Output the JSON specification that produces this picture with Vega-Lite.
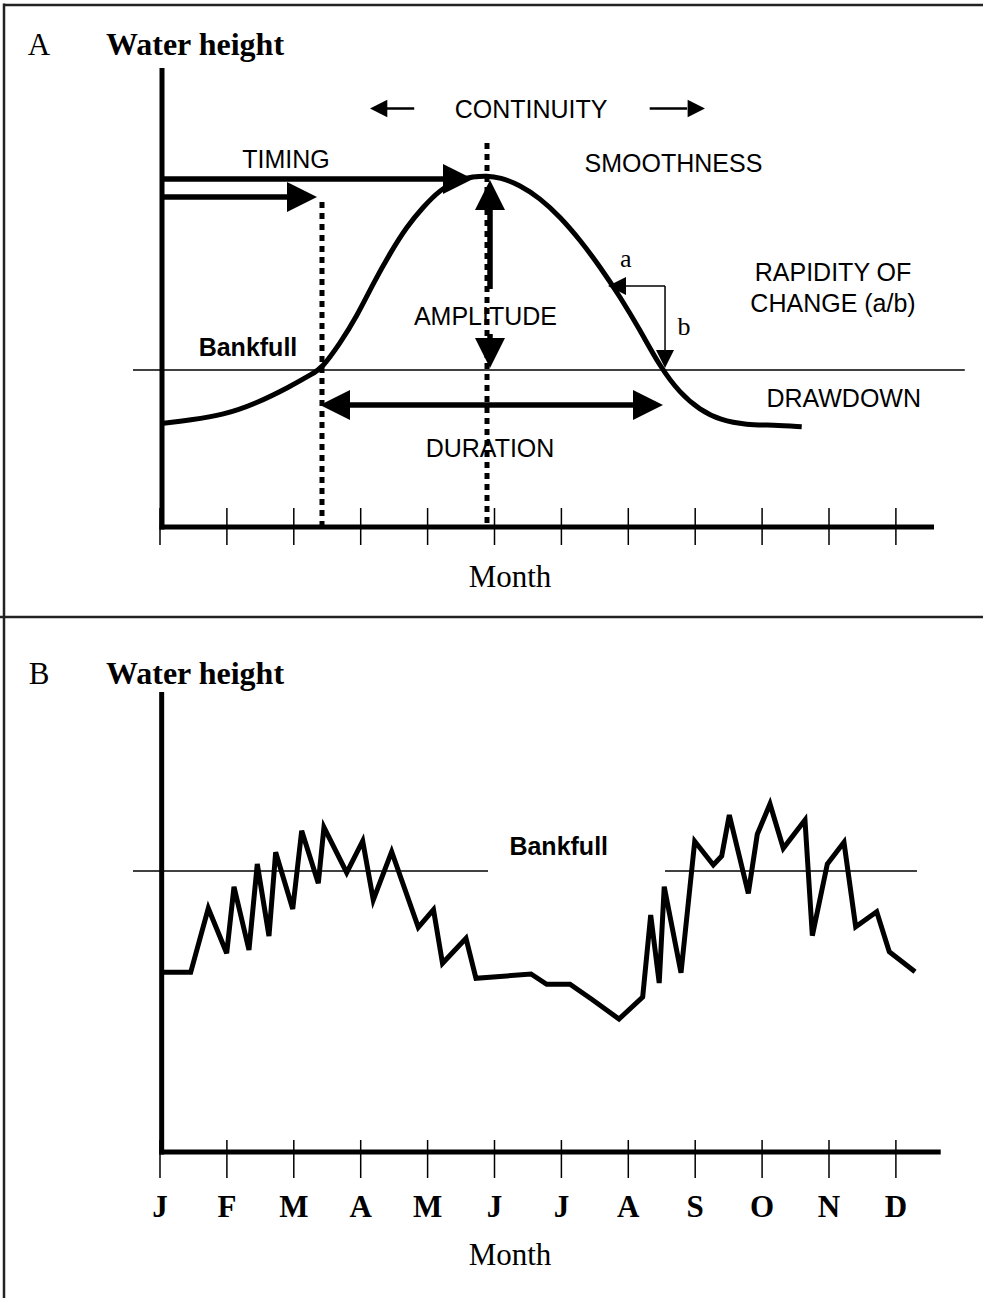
{
  "$schema": "https://vega.github.io/schema/vega-lite/v6.json",
  "width": 983,
  "height": 1298,
  "padding": 0,
  "autosize": {"type": "none"},
  "background": "white",
  "config": {"view": {"stroke": null}},
  "datasets": {
    "frame": [
      {"m": -2.3318, "m2": 12.4, "h": 17.4, "h2": 17.4},
      {"m": -2.3318, "m2": -2.3318, "h": 17.45, "h2": -25.8},
      {"m": -2.4, "m2": 12.4, "h": -3.0, "h2": -3.0}
    ],
    "axesA": [
      {"m": 0.03, "m2": 0.03, "h": 15.3, "h2": -0.08},
      {"m": -0.005, "m2": 11.57, "h": 0, "h2": 0}
    ],
    "ticksA": [
      {"m": 0, "h": 0.633, "h2": -0.6}, {"m": 1, "h": 0.633, "h2": -0.6}, {"m": 2, "h": 0.633, "h2": -0.6},
      {"m": 3, "h": 0.633, "h2": -0.6}, {"m": 4, "h": 0.633, "h2": -0.6}, {"m": 5, "h": 0.633, "h2": -0.6},
      {"m": 6, "h": 0.633, "h2": -0.6}, {"m": 7, "h": 0.633, "h2": -0.6}, {"m": 8, "h": 0.633, "h2": -0.6},
      {"m": 9, "h": 0.633, "h2": -0.6}, {"m": 10, "h": 0.633, "h2": -0.6}, {"m": 11, "h": 0.633, "h2": -0.6}
    ],
    "bankA": [{"m": -0.404, "m2": 12.03, "h": 5.233, "h2": 5.233}],
    "dotsA": [
      {"m": 2.4215, "h": 10.833, "h2": 0},
      {"m": 4.888, "h": 12.8, "h2": 0}
    ],
    "curveA": [
      {"m": 0.049, "h": 3.457}, {"m": 0.448, "h": 3.567}, {"m": 0.946, "h": 3.733}, {"m": 1.445, "h": 4.123},
      {"m": 1.943, "h": 4.677}, {"m": 2.291, "h": 5.123}, {"m": 2.417, "h": 5.29}, {"m": 2.691, "h": 6.123},
      {"m": 2.94, "h": 7.01}, {"m": 3.188, "h": 8.123}, {"m": 3.438, "h": 9.123}, {"m": 3.688, "h": 10.01},
      {"m": 3.936, "h": 10.677}, {"m": 4.185, "h": 11.233}, {"m": 4.435, "h": 11.567}, {"m": 4.683, "h": 11.677},
      {"m": 4.883, "h": 11.71}, {"m": 5.082, "h": 11.65}, {"m": 5.381, "h": 11.4}, {"m": 5.68, "h": 10.957},
      {"m": 5.979, "h": 10.343}, {"m": 6.278, "h": 9.567}, {"m": 6.577, "h": 8.677}, {"m": 6.876, "h": 7.677},
      {"m": 7.175, "h": 6.567}, {"m": 7.474, "h": 5.343}, {"m": 7.773, "h": 4.457}, {"m": 8.072, "h": 3.9},
      {"m": 8.371, "h": 3.567}, {"m": 8.77, "h": 3.4}, {"m": 9.167, "h": 3.4}, {"m": 9.592, "h": 3.343}
    ],
    "shaftsA": [
      {"m": 0.03, "m2": 4.26, "h": 11.6, "h2": 11.6},
      {"m": 0.03, "m2": 1.943, "h": 11.0, "h2": 11.0},
      {"m": 2.78, "m2": 7.1, "h": 4.067, "h2": 4.067},
      {"m": 4.933, "m2": 4.933, "h": 7.933, "h2": 10.6},
      {"m": 4.933, "m2": 4.933, "h": 6.433, "h2": 6.1}
    ],
    "headsA": [
      {"m": 4.679, "h": 11.6, "dir": "right"},
      {"m": 2.347, "h": 11.0, "dir": "right"},
      {"m": 4.933, "h": 11.567, "dir": "up"},
      {"m": 4.933, "h": 5.3, "dir": "down"},
      {"m": 2.392, "h": 4.067, "dir": "left"},
      {"m": 7.519, "h": 4.067, "dir": "right"}
    ],
    "thinA": [
      {"m": 6.9, "m2": 7.549, "h": 8.033, "h2": 8.033},
      {"m": 7.549, "m2": 7.549, "h": 8.033, "h2": 5.85}
    ],
    "smallHeadsA": [
      {"m": 6.697, "h": 8.033, "dir": "left"},
      {"m": 7.549, "h": 5.3, "dir": "down"}
    ],
    "contShafts": [
      {"m": 3.3, "m2": 3.8, "h": 13.95, "h2": 13.95},
      {"m": 7.32, "m2": 7.88, "h": 13.95, "h2": 13.95}
    ],
    "contHeads": [
      {"m": 3.139, "h": 13.95, "dir": "left"},
      {"m": 8.146, "h": 13.95, "dir": "right"}
    ],
    "sansA": [
      {"m": 5.546, "h": 13.633, "t": "CONTINUITY"},
      {"m": 1.883, "h": 11.967, "t": "TIMING"},
      {"m": 7.675, "h": 11.833, "t": "SMOOTHNESS"},
      {"m": 4.865, "h": 6.733, "t": "AMPLITUDE"},
      {"m": 4.933, "h": 2.333, "t": "DURATION"},
      {"m": 10.06, "h": 8.2, "t": "RAPIDITY OF"},
      {"m": 10.06, "h": 7.167, "t": "CHANGE (a/b)"},
      {"m": 10.22, "h": 4.0, "t": "DRAWDOWN"}
    ],
    "boldSansA": [{"m": 1.315, "h": 5.7, "t": "Bankfull"}],
    "lettersA": [
      {"m": 6.961, "h": 8.677, "t": "a"},
      {"m": 7.833, "h": 6.4, "t": "b"}
    ],
    "serifA": [
      {"m": -1.809, "h": 15.733, "t": "A"},
      {"m": 5.232, "h": -2.0, "t": "Month"}
    ],
    "titleA": [{"m": -0.807, "h": 15.733, "t": "Water height"}],
    "axesB": [
      {"m": 0.025, "m2": 0.025, "h": 15.333, "h2": -0.08},
      {"m": -0.005, "m2": 11.67, "h": 0, "h2": 0}
    ],
    "ticksB": [
      {"m": 0, "h": 0.4, "h2": -0.867}, {"m": 1, "h": 0.4, "h2": -0.867}, {"m": 2, "h": 0.4, "h2": -0.867},
      {"m": 3, "h": 0.4, "h2": -0.867}, {"m": 4, "h": 0.4, "h2": -0.867}, {"m": 5, "h": 0.4, "h2": -0.867},
      {"m": 6, "h": 0.4, "h2": -0.867}, {"m": 7, "h": 0.4, "h2": -0.867}, {"m": 8, "h": 0.4, "h2": -0.867},
      {"m": 9, "h": 0.4, "h2": -0.867}, {"m": 10, "h": 0.4, "h2": -0.867}, {"m": 11, "h": 0.4, "h2": -0.867}
    ],
    "bankB": [
      {"m": -0.404, "m2": 4.903, "h": 9.367, "h2": 9.367},
      {"m": 7.549, "m2": 11.315, "h": 9.367, "h2": 9.367}
    ],
    "lineB": [
      {"m": 0.025, "h": 5.99}, {"m": 0.459, "h": 5.99}, {"m": 0.722, "h": 8.123}, {"m": 0.997, "h": 6.623},
      {"m": 1.106, "h": 8.843}, {"m": 1.33, "h": 6.733}, {"m": 1.454, "h": 9.6}, {"m": 1.629, "h": 7.2},
      {"m": 1.729, "h": 9.99}, {"m": 1.984, "h": 8.1}, {"m": 2.118, "h": 10.71}, {"m": 2.366, "h": 8.957},
      {"m": 2.451, "h": 10.823}, {"m": 2.791, "h": 9.31}, {"m": 3.03, "h": 10.367}, {"m": 3.188, "h": 8.4},
      {"m": 3.463, "h": 10.01}, {"m": 3.861, "h": 7.49}, {"m": 4.088, "h": 8.077}, {"m": 4.223, "h": 6.29},
      {"m": 4.574, "h": 7.123}, {"m": 4.723, "h": 5.79}, {"m": 5.546, "h": 5.933}, {"m": 5.78, "h": 5.59},
      {"m": 6.129, "h": 5.59}, {"m": 6.453, "h": 5.09}, {"m": 6.861, "h": 4.433}, {"m": 7.215, "h": 5.167},
      {"m": 7.335, "h": 7.9}, {"m": 7.462, "h": 5.633}, {"m": 7.537, "h": 8.843}, {"m": 7.788, "h": 5.977},
      {"m": 7.993, "h": 10.357}, {"m": 8.271, "h": 9.567}, {"m": 8.396, "h": 9.867}, {"m": 8.51, "h": 11.233},
      {"m": 8.794, "h": 8.623}, {"m": 8.928, "h": 10.59}, {"m": 9.118, "h": 11.6}, {"m": 9.317, "h": 10.123},
      {"m": 9.641, "h": 11.067}, {"m": 9.751, "h": 7.21}, {"m": 9.975, "h": 9.6}, {"m": 10.224, "h": 10.323},
      {"m": 10.399, "h": 7.51}, {"m": 10.713, "h": 8.01}, {"m": 10.901, "h": 6.677}, {"m": 11.286, "h": 6.01}
    ],
    "boldSansB": [{"m": 5.96, "h": 9.9, "t": "Bankfull"}],
    "serifB": [
      {"m": -1.809, "h": 15.6, "t": "B"},
      {"m": 5.232, "h": -3.767, "t": "Month"}
    ],
    "titleB": [{"m": -0.807, "h": 15.6, "t": "Water height"}],
    "monthsB": [
      {"m": 0, "h": -2.167, "t": "J"}, {"m": 1, "h": -2.167, "t": "F"}, {"m": 2, "h": -2.167, "t": "M"},
      {"m": 3, "h": -2.167, "t": "A"}, {"m": 4, "h": -2.167, "t": "M"}, {"m": 5, "h": -2.167, "t": "J"},
      {"m": 6, "h": -2.167, "t": "J"}, {"m": 7, "h": -2.167, "t": "A"}, {"m": 8, "h": -2.167, "t": "S"},
      {"m": 9, "h": -2.167, "t": "O"}, {"m": 10, "h": -2.167, "t": "N"}, {"m": 11, "h": -2.167, "t": "D"}
    ]
  },
  "layer": [
    {
      "layer": [
        {
          "data": {"name": "frame"},
          "mark": {"type": "rule", "color": "#222222", "strokeWidth": 2.5},
          "encoding": {
            "x": {"field": "m", "type": "quantitative", "scale": {"domain": [-2.3916, 12.302], "nice": false, "zero": false}, "axis": null},
            "x2": {"field": "m2"},
            "y": {"field": "h", "type": "quantitative", "scale": {"domain": [-25.7, 17.5667], "nice": false, "zero": false}, "axis": null},
            "y2": {"field": "h2"}
          }
        },
        {
          "data": {"name": "bankA"},
          "mark": {"type": "rule", "color": "black", "strokeWidth": 1.6},
          "encoding": {
            "x": {"field": "m", "type": "quantitative", "scale": {"domain": [-2.3916, 12.302], "nice": false, "zero": false}, "axis": null},
            "x2": {"field": "m2"},
            "y": {"field": "h", "type": "quantitative", "scale": {"domain": [-25.7, 17.5667], "nice": false, "zero": false}, "axis": null},
            "y2": {"field": "h2"}
          }
        },
        {
          "data": {"name": "sansA"},
          "mark": {"type": "text", "font": "Liberation Sans", "fontSize": 25, "color": "black", "align": "center", "baseline": "alphabetic"},
          "encoding": {
            "x": {"field": "m", "type": "quantitative", "scale": {"domain": [-2.3916, 12.302], "nice": false, "zero": false}, "axis": null},
            "y": {"field": "h", "type": "quantitative", "scale": {"domain": [-25.7, 17.5667], "nice": false, "zero": false}, "axis": null},
            "text": {"field": "t"}
          }
        },
        {
          "data": {"name": "dotsA"},
          "mark": {"type": "rule", "color": "black", "strokeWidth": 5, "strokeDash": [6, 5]},
          "encoding": {
            "x": {"field": "m", "type": "quantitative", "scale": {"domain": [-2.3916, 12.302], "nice": false, "zero": false}, "axis": null},
            "y": {"field": "h", "type": "quantitative", "scale": {"domain": [-25.7, 17.5667], "nice": false, "zero": false}, "axis": null},
            "y2": {"field": "h2"}
          }
        },
        {
          "data": {"name": "ticksA"},
          "mark": {"type": "rule", "color": "black", "strokeWidth": 1.5},
          "encoding": {
            "x": {"field": "m", "type": "quantitative", "scale": {"domain": [-2.3916, 12.302], "nice": false, "zero": false}, "axis": null},
            "y": {"field": "h", "type": "quantitative", "scale": {"domain": [-25.7, 17.5667], "nice": false, "zero": false}, "axis": null},
            "y2": {"field": "h2"}
          }
        },
        {
          "data": {"name": "axesA"},
          "mark": {"type": "rule", "color": "black", "strokeWidth": 5},
          "encoding": {
            "x": {"field": "m", "type": "quantitative", "scale": {"domain": [-2.3916, 12.302], "nice": false, "zero": false}, "axis": null},
            "x2": {"field": "m2"},
            "y": {"field": "h", "type": "quantitative", "scale": {"domain": [-25.7, 17.5667], "nice": false, "zero": false}, "axis": null},
            "y2": {"field": "h2"}
          }
        },
        {
          "data": {"name": "curveA"},
          "mark": {"type": "line", "color": "black", "strokeWidth": 5, "interpolate": "basis"},
          "encoding": {
            "x": {"field": "m", "type": "quantitative", "scale": {"domain": [-2.3916, 12.302], "nice": false, "zero": false}, "axis": null},
            "y": {"field": "h", "type": "quantitative", "scale": {"domain": [-25.7, 17.5667], "nice": false, "zero": false}, "axis": null}
          }
        },
        {
          "data": {"name": "shaftsA"},
          "mark": {"type": "rule", "color": "black", "strokeWidth": 5.5},
          "encoding": {
            "x": {"field": "m", "type": "quantitative", "scale": {"domain": [-2.3916, 12.302], "nice": false, "zero": false}, "axis": null},
            "x2": {"field": "m2"},
            "y": {"field": "h", "type": "quantitative", "scale": {"domain": [-25.7, 17.5667], "nice": false, "zero": false}, "axis": null},
            "y2": {"field": "h2"}
          }
        },
        {
          "data": {"name": "headsA"},
          "mark": {"type": "point", "filled": true, "color": "black", "opacity": 1, "size": 900, "strokeWidth": 0},
          "encoding": {
            "x": {"field": "m", "type": "quantitative", "scale": {"domain": [-2.3916, 12.302], "nice": false, "zero": false}, "axis": null},
            "y": {"field": "h", "type": "quantitative", "scale": {"domain": [-25.7, 17.5667], "nice": false, "zero": false}, "axis": null},
            "shape": {"field": "dir", "type": "nominal", "legend": null, "scale": {"domain": ["right", "left", "up", "down"], "range": ["M0,0L-2,-1L-2,1Z", "M0,0L2,-1L2,1Z", "M0,0L-1,2L1,2Z", "M0,0L-1,-2L1,-2Z"]}}
          }
        },
        {
          "data": {"name": "thinA"},
          "mark": {"type": "rule", "color": "black", "strokeWidth": 1.5},
          "encoding": {
            "x": {"field": "m", "type": "quantitative", "scale": {"domain": [-2.3916, 12.302], "nice": false, "zero": false}, "axis": null},
            "x2": {"field": "m2"},
            "y": {"field": "h", "type": "quantitative", "scale": {"domain": [-25.7, 17.5667], "nice": false, "zero": false}, "axis": null},
            "y2": {"field": "h2"}
          }
        },
        {
          "data": {"name": "smallHeadsA"},
          "mark": {"type": "point", "filled": true, "color": "black", "opacity": 1, "size": 324, "strokeWidth": 0},
          "encoding": {
            "x": {"field": "m", "type": "quantitative", "scale": {"domain": [-2.3916, 12.302], "nice": false, "zero": false}, "axis": null},
            "y": {"field": "h", "type": "quantitative", "scale": {"domain": [-25.7, 17.5667], "nice": false, "zero": false}, "axis": null},
            "shape": {"field": "dir", "type": "nominal", "legend": null, "scale": {"domain": ["right", "left", "up", "down"], "range": ["M0,0L-2,-1L-2,1Z", "M0,0L2,-1L2,1Z", "M0,0L-1,2L1,2Z", "M0,0L-1,-2L1,-2Z"]}}
          }
        },
        {
          "data": {"name": "contShafts"},
          "mark": {"type": "rule", "color": "black", "strokeWidth": 2.5},
          "encoding": {
            "x": {"field": "m", "type": "quantitative", "scale": {"domain": [-2.3916, 12.302], "nice": false, "zero": false}, "axis": null},
            "x2": {"field": "m2"},
            "y": {"field": "h", "type": "quantitative", "scale": {"domain": [-25.7, 17.5667], "nice": false, "zero": false}, "axis": null},
            "y2": {"field": "h2"}
          }
        },
        {
          "data": {"name": "contHeads"},
          "mark": {"type": "point", "filled": true, "color": "black", "opacity": 1, "size": 300, "strokeWidth": 0},
          "encoding": {
            "x": {"field": "m", "type": "quantitative", "scale": {"domain": [-2.3916, 12.302], "nice": false, "zero": false}, "axis": null},
            "y": {"field": "h", "type": "quantitative", "scale": {"domain": [-25.7, 17.5667], "nice": false, "zero": false}, "axis": null},
            "shape": {"field": "dir", "type": "nominal", "legend": null, "scale": {"domain": ["right", "left", "up", "down"], "range": ["M0,0L-2,-1L-2,1Z", "M0,0L2,-1L2,1Z", "M0,0L-1,2L1,2Z", "M0,0L-1,-2L1,-2Z"]}}
          }
        },
        {
          "data": {"name": "boldSansA"},
          "mark": {"type": "text", "font": "Liberation Sans", "fontSize": 25, "fontWeight": "bold", "color": "black", "align": "center", "baseline": "alphabetic"},
          "encoding": {
            "x": {"field": "m", "type": "quantitative", "scale": {"domain": [-2.3916, 12.302], "nice": false, "zero": false}, "axis": null},
            "y": {"field": "h", "type": "quantitative", "scale": {"domain": [-25.7, 17.5667], "nice": false, "zero": false}, "axis": null},
            "text": {"field": "t"}
          }
        },
        {
          "data": {"name": "lettersA"},
          "mark": {"type": "text", "font": "Liberation Serif", "fontSize": 26, "color": "black", "align": "center", "baseline": "alphabetic"},
          "encoding": {
            "x": {"field": "m", "type": "quantitative", "scale": {"domain": [-2.3916, 12.302], "nice": false, "zero": false}, "axis": null},
            "y": {"field": "h", "type": "quantitative", "scale": {"domain": [-25.7, 17.5667], "nice": false, "zero": false}, "axis": null},
            "text": {"field": "t"}
          }
        },
        {
          "data": {"name": "serifA"},
          "mark": {"type": "text", "font": "Liberation Serif", "fontSize": 31, "color": "black", "align": "center", "baseline": "alphabetic"},
          "encoding": {
            "x": {"field": "m", "type": "quantitative", "scale": {"domain": [-2.3916, 12.302], "nice": false, "zero": false}, "axis": null},
            "y": {"field": "h", "type": "quantitative", "scale": {"domain": [-25.7, 17.5667], "nice": false, "zero": false}, "axis": null},
            "text": {"field": "t"}
          }
        },
        {
          "data": {"name": "titleA"},
          "mark": {"type": "text", "font": "Liberation Serif", "fontSize": 32, "fontWeight": "bold", "color": "black", "align": "left", "baseline": "alphabetic"},
          "encoding": {
            "x": {"field": "m", "type": "quantitative", "scale": {"domain": [-2.3916, 12.302], "nice": false, "zero": false}, "axis": null},
            "y": {"field": "h", "type": "quantitative", "scale": {"domain": [-25.7, 17.5667], "nice": false, "zero": false}, "axis": null},
            "text": {"field": "t"}
          }
        }
      ]
    },
    {
      "layer": [
        {
          "data": {"name": "bankB"},
          "mark": {"type": "rule", "color": "black", "strokeWidth": 1.6},
          "encoding": {
            "x": {"field": "m", "type": "quantitative", "scale": {"domain": [-2.3916, 12.302], "nice": false, "zero": false}, "axis": null},
            "x2": {"field": "m2"},
            "y": {"field": "h", "type": "quantitative", "scale": {"domain": [-4.8667, 38.4], "nice": false, "zero": false}, "axis": null},
            "y2": {"field": "h2"}
          }
        },
        {
          "data": {"name": "ticksB"},
          "mark": {"type": "rule", "color": "black", "strokeWidth": 1.5},
          "encoding": {
            "x": {"field": "m", "type": "quantitative", "scale": {"domain": [-2.3916, 12.302], "nice": false, "zero": false}, "axis": null},
            "y": {"field": "h", "type": "quantitative", "scale": {"domain": [-4.8667, 38.4], "nice": false, "zero": false}, "axis": null},
            "y2": {"field": "h2"}
          }
        },
        {
          "data": {"name": "axesB"},
          "mark": {"type": "rule", "color": "black", "strokeWidth": 5},
          "encoding": {
            "x": {"field": "m", "type": "quantitative", "scale": {"domain": [-2.3916, 12.302], "nice": false, "zero": false}, "axis": null},
            "x2": {"field": "m2"},
            "y": {"field": "h", "type": "quantitative", "scale": {"domain": [-4.8667, 38.4], "nice": false, "zero": false}, "axis": null},
            "y2": {"field": "h2"}
          }
        },
        {
          "data": {"name": "lineB"},
          "mark": {"type": "line", "color": "black", "strokeWidth": 5, "strokeJoin": "miter"},
          "encoding": {
            "x": {"field": "m", "type": "quantitative", "scale": {"domain": [-2.3916, 12.302], "nice": false, "zero": false}, "axis": null},
            "y": {"field": "h", "type": "quantitative", "scale": {"domain": [-4.8667, 38.4], "nice": false, "zero": false}, "axis": null}
          }
        },
        {
          "data": {"name": "boldSansB"},
          "mark": {"type": "text", "font": "Liberation Sans", "fontSize": 25, "fontWeight": "bold", "color": "black", "align": "center", "baseline": "alphabetic"},
          "encoding": {
            "x": {"field": "m", "type": "quantitative", "scale": {"domain": [-2.3916, 12.302], "nice": false, "zero": false}, "axis": null},
            "y": {"field": "h", "type": "quantitative", "scale": {"domain": [-4.8667, 38.4], "nice": false, "zero": false}, "axis": null},
            "text": {"field": "t"}
          }
        },
        {
          "data": {"name": "serifB"},
          "mark": {"type": "text", "font": "Liberation Serif", "fontSize": 31, "color": "black", "align": "center", "baseline": "alphabetic"},
          "encoding": {
            "x": {"field": "m", "type": "quantitative", "scale": {"domain": [-2.3916, 12.302], "nice": false, "zero": false}, "axis": null},
            "y": {"field": "h", "type": "quantitative", "scale": {"domain": [-4.8667, 38.4], "nice": false, "zero": false}, "axis": null},
            "text": {"field": "t"}
          }
        },
        {
          "data": {"name": "titleB"},
          "mark": {"type": "text", "font": "Liberation Serif", "fontSize": 32, "fontWeight": "bold", "color": "black", "align": "left", "baseline": "alphabetic"},
          "encoding": {
            "x": {"field": "m", "type": "quantitative", "scale": {"domain": [-2.3916, 12.302], "nice": false, "zero": false}, "axis": null},
            "y": {"field": "h", "type": "quantitative", "scale": {"domain": [-4.8667, 38.4], "nice": false, "zero": false}, "axis": null},
            "text": {"field": "t"}
          }
        },
        {
          "data": {"name": "monthsB"},
          "mark": {"type": "text", "font": "Liberation Serif", "fontSize": 31, "fontWeight": "bold", "color": "black", "align": "center", "baseline": "alphabetic"},
          "encoding": {
            "x": {"field": "m", "type": "quantitative", "scale": {"domain": [-2.3916, 12.302], "nice": false, "zero": false}, "axis": null},
            "y": {"field": "h", "type": "quantitative", "scale": {"domain": [-4.8667, 38.4], "nice": false, "zero": false}, "axis": null},
            "text": {"field": "t"}
          }
        }
      ]
    }
  ],
  "resolve": {"scale": {"y": "independent"}}
}
